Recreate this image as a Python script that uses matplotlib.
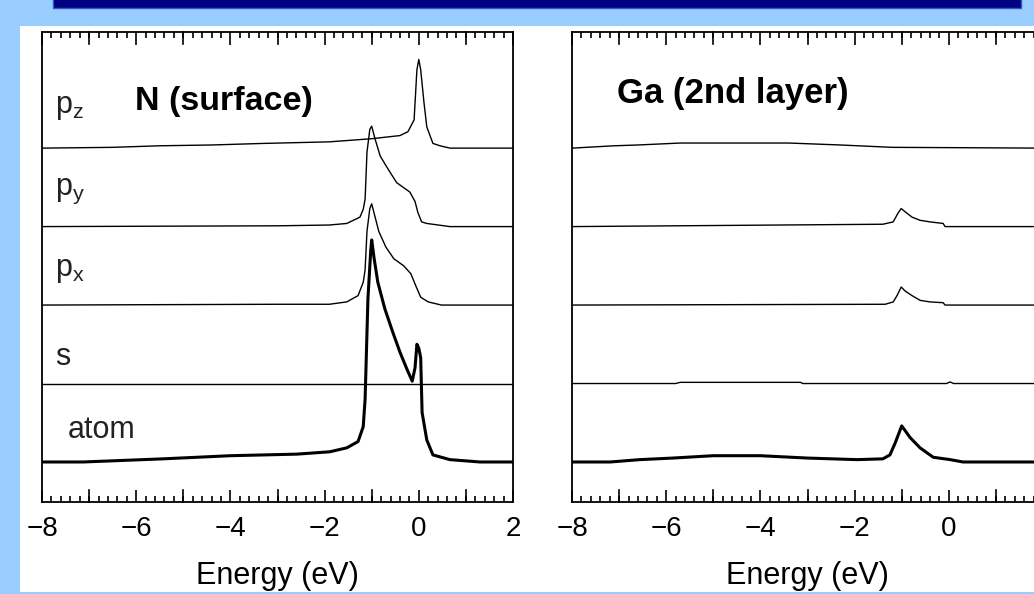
# Плотность состояний N (поверхность) и Ga (2-й слой)
import matplotlib.pyplot as plt
from matplotlib.patches import Rectangle
from matplotlib.ticker import MultipleLocator

plt.rcParams['font.family'] = ['Liberation Sans', 'DejaVu Sans']
plt.rcParams['mathtext.fontset'] = 'custom'
plt.rcParams['mathtext.rm'] = 'Liberation Sans'
plt.rcParams['mathtext.it'] = 'Liberation Sans'

# Данные (энергия в эВ, высота в долях шага между кривыми)
orbitals = ['atom', 's', 'p$_x$', 'p$_y$', 'p$_z$']
offsets = [0, 1, 2, 3, 4]
tick_values = [-8, -6, -4, -2, 0, 2]

# N (surface)
n_atom_e = [-8, -7.13, -5.43, -4.0, -2.59, -1.89, -1.53, -1.29, -1.18, -1.14, -1.08, -1.02, -1.0, -0.95,
            -0.87, -0.72, -0.55, -0.4, -0.25, -0.14, -0.08, -0.04, 0.0, 0.04, 0.07, 0.17, 0.3, 0.66, 1.3, 2]
n_atom = [0, 0, 0.04, 0.08, 0.1, 0.13, 0.18, 0.26, 0.45, 0.8, 2.08, 2.7, 2.83, 2.6,
          2.29, 1.95, 1.65, 1.4, 1.18, 1.03, 1.2, 1.5, 1.45, 1.33, 0.63, 0.28, 0.09, 0.03, 0, 0]
n_s_e = [-8, -4, 0, 2]
n_s = [0, 0, 0, 0]
n_px_e = [-8, -3, -1.9, -1.53, -1.29, -1.18, -1.14, -1.1, -1.04, -1.0, -0.85, -0.7, -0.53, -0.32,
          -0.17, -0.06, 0.04, 0.2, 0.48, 2]
n_px = [0, 0.01, 0.01, 0.04, 0.12, 0.29, 0.45, 0.94, 1.23, 1.29, 0.94, 0.74, 0.59, 0.5,
        0.4, 0.24, 0.1, 0.04, 0, 0]
n_py_e = [-8, -3, -1.9, -1.53, -1.25, -1.18, -1.14, -1.1, -1.04, -1.0, -0.93, -0.82, -0.65, -0.47,
          -0.19, -0.08, -0.02, 0.06, 0.17, 0.66, 2]
n_py = [0, 0.01, 0.02, 0.04, 0.12, 0.22, 0.35, 0.95, 1.24, 1.28, 1.12, 0.9, 0.73, 0.56,
        0.44, 0.32, 0.18, 0.06, 0.04, 0, 0]
n_pz_e = [-8, -6.5, -5.5, -4.4, -3.3, -1.9, -1.0, -0.4, -0.23, -0.1, -0.04, 0.0, 0.04, 0.11,
          0.17, 0.3, 0.45, 0.66, 2]
n_pz = [0, 0.01, 0.03, 0.04, 0.06, 0.08, 0.12, 0.16, 0.21, 0.36, 1.0, 1.13, 1.0, 0.58,
        0.27, 0.06, 0.03, 0, 0]

# Ga (2nd layer)
ga_atom_e = [-8, -7.19, -6.56, -5.86, -5.0, -4.0, -3.0, -1.95, -1.4, -1.25, -1.14, -1.0, -0.82,
             -0.61, -0.33, 0.03, 0.3, 2]
ga_atom = [0, 0, 0.03, 0.05, 0.08, 0.08, 0.05, 0.03, 0.04, 0.09, 0.24, 0.46, 0.31,
           0.18, 0.06, 0.03, 0, 0]
ga_s_e = [-8, -5.8, -5.7, -3.15, -3.1, -0.05, 0.03, 0.1, 2]
ga_s = [0, 0, 0.015, 0.015, 0, 0, 0.02, 0, 0]
ga_px_e = [-8, -1.35, -1.18, -1.1, -1.01, -0.93, -0.78, -0.61, -0.4, -0.12, -0.08, 2]
ga_px = [0, 0.01, 0.04, 0.12, 0.23, 0.18, 0.12, 0.06, 0.04, 0.03, 0, 0]
ga_py_e = [-8, -1.4, -1.18, -1.08, -1.01, -0.93, -0.78, -0.61, -0.4, -0.12, -0.08, 2]
ga_py = [0, 0.03, 0.06, 0.17, 0.23, 0.19, 0.12, 0.08, 0.06, 0.04, 0, 0]
ga_pz_e = [-8, -7.1, -6.6, -5.7, -3.4, -2.3, -1.2, 2]
ga_pz = [0, 0.03, 0.04, 0.065, 0.065, 0.04, 0.01, 0]

panels = [
    ('N (surface)', [(n_atom_e, n_atom), (n_s_e, n_s), (n_px_e, n_px), (n_py_e, n_py), (n_pz_e, n_pz)]),
    ('Ga (2nd layer)', [(ga_atom_e, ga_atom), (ga_s_e, ga_s), (ga_px_e, ga_px), (ga_py_e, ga_py), (ga_pz_e, ga_pz)]),
]

fig = plt.figure(figsize=(10.34, 5.94), dpi=100)
fig.patch.set_facecolor('#99ccff')

# Белая подложка и тёмно-синяя полоса сверху (под осями)
fig.patches.append(Rectangle((20 / 1034, 2 / 594), 1014 / 1034, 566 / 594, transform=fig.transFigure,
                             facecolor='white', edgecolor='none', zorder=-10))
fig.patches.append(Rectangle((53 / 1034, 586 / 594), 968 / 1034, 10 / 594, transform=fig.transFigure,
                             facecolor='#000080', edgecolor='#3355cc', linewidth=1, zorder=-10))

label_y = [0.31, 1.24, 2.37, 3.4, 4.45]
lefts = [42 / 1034, 572 / 1034]

for i, (title, curves) in enumerate(panels):
    ax = fig.add_axes([lefts[i], 92 / 594, 471 / 1034, 470 / 594])
    ax.set_facecolor('white')
    for k, (e, d) in enumerate(curves):
        lw = 2.2 if k == 0 else 1.0
        ax.plot(e, [v + offsets[k] for v in d], color='black', linewidth=lw)
    ax.set_xlim(-8, 2)
    ax.set_ylim(-0.51, 5.48)
    ax.set_xticks(tick_values)
    ax.xaxis.set_minor_locator(MultipleLocator(0.2))
    labels = ['\u2212%d' % -v if v < 0 else str(v) for v in tick_values]
    if i == 1:
        labels[-1] = ''  # справа метка «2» обрезана краем
    ax.set_xticklabels(labels)
    ax.tick_params(axis='x', which='both', direction='in', top=True, bottom=True,
                   labelsize=20, pad=10, width=1.2)
    ax.tick_params(axis='x', which='major', length=9)
    ax.tick_params(axis='x', which='minor', length=4)
    ax.yaxis.set_ticks([])
    # длинные деления на нечётных значениях энергии
    for xv in range(-7, 2, 2):
        ax.plot([xv, xv], [-0.51, -0.51 + 0.15], color='black', linewidth=1.2, clip_on=False)
        ax.plot([xv, xv], [5.48, 5.48 - 0.15], color='black', linewidth=1.2, clip_on=False)
    for sp in ax.spines.values():
        sp.set_linewidth(1.3)
    ax.set_xlabel('Energy (eV)', fontsize=22, labelpad=14)
    if i == 0:
        ax.text(-6.03, 4.49, title, fontsize=24.5, fontweight='bold', va='baseline')
        for k, name in enumerate(orbitals):
            x0 = -7.45 if k == 0 else -7.72
            ax.text(x0, label_y[k], name, fontsize=22, color='#222222', va='baseline')
    else:
        ax.text(-7.04, 4.58, title, fontsize=25, fontweight='bold', va='baseline')

fig.savefig('out.png', dpi=100, facecolor=fig.get_facecolor())
